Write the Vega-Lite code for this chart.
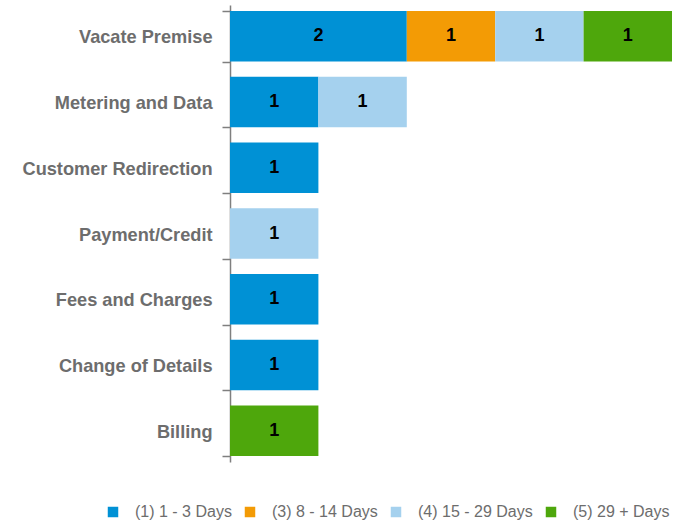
{
  "$schema": "https://vega.github.io/schema/vega-lite/v6.json",
  "width": 442,
  "height": 457,
  "autosize": {"type": "none"},
  "padding": {"left": 230, "top": 5, "right": 16, "bottom": 61},
  "background": "white",
  "config": {"view": {"stroke": null}, "font": "Liberation Sans"},
  "data": {
    "values": [
      {"category": "Vacate Premise", "bucket": "(1) 1 - 3 Days", "order": 1, "count": 2},
      {"category": "Vacate Premise", "bucket": "(3) 8 - 14 Days", "order": 2, "count": 1},
      {"category": "Vacate Premise", "bucket": "(4) 15 - 29 Days", "order": 3, "count": 1},
      {"category": "Vacate Premise", "bucket": "(5) 29 + Days", "order": 4, "count": 1},
      {"category": "Metering and Data", "bucket": "(1) 1 - 3 Days", "order": 1, "count": 1},
      {"category": "Metering and Data", "bucket": "(4) 15 - 29 Days", "order": 3, "count": 1},
      {"category": "Customer Redirection", "bucket": "(1) 1 - 3 Days", "order": 1, "count": 1},
      {"category": "Payment/Credit", "bucket": "(4) 15 - 29 Days", "order": 3, "count": 1},
      {"category": "Fees and Charges", "bucket": "(1) 1 - 3 Days", "order": 1, "count": 1},
      {"category": "Change of Details", "bucket": "(1) 1 - 3 Days", "order": 1, "count": 1},
      {"category": "Billing", "bucket": "(5) 29 + Days", "order": 4, "count": 1}
    ]
  },
  "transform": [
    {"stack": "count", "groupby": ["category"], "sort": [{"field": "order", "order": "ascending"}], "as": ["x0", "x1"]},
    {"calculate": "(datum.x0 + datum.x1) / 2", "as": "mid"}
  ],
  "encoding": {
    "y": {
      "field": "category",
      "type": "nominal",
      "sort": ["Vacate Premise", "Metering and Data", "Customer Redirection", "Payment/Credit", "Fees and Charges", "Change of Details", "Billing"],
      "scale": {"paddingInner": 0.23, "paddingOuter": 0.09},
      "axis": {
        "title": null,
        "domainColor": "#7f7f7f",
        "domainWidth": 1.5,
        "tickColor": "#7f7f7f",
        "tickWidth": 1.5,
        "tickSize": 8,
        "tickBand": "extent",
        "labelPadding": 10,
        "labelFont": "Liberation Sans",
        "labelFontSize": 18.2,
        "labelFontWeight": "bold",
        "labelColor": "#6d6d6d",
        "labelLimit": 250,
        "labelOffset": 1.5
      }
    }
  },
  "layer": [
    {
      "mark": {"type": "bar"},
      "encoding": {
        "x": {"field": "x0", "type": "quantitative", "scale": {"domain": [0, 5]}, "axis": null},
        "x2": {"field": "x1"},
        "color": {
          "field": "bucket",
          "type": "nominal",
          "scale": {
            "domain": ["(1) 1 - 3 Days", "(3) 8 - 14 Days", "(4) 15 - 29 Days", "(5) 29 + Days"],
            "range": ["#0091d5", "#f39b05", "#a5d1ee", "#4ea70c"]
          },
          "legend": {
            "title": null,
            "orient": "none",
            "direction": "horizontal",
            "legendX": -125,
            "legendY": 499,
            "symbolType": "square",
            "symbolSize": 110,
            "symbolStrokeWidth": 0,
            "symbolOpacity": 1,
            "labelFont": "Liberation Sans",
            "labelFontSize": 16,
            "labelColor": "#6d6d6d",
            "labelOffset": 14,
            "columnPadding": 10,
            "labelLimit": 200
          }
        }
      }
    },
    {
      "mark": {"type": "text", "font": "Liberation Sans", "fontSize": 18, "fontWeight": "bold", "color": "black"},
      "encoding": {
        "x": {"field": "mid", "type": "quantitative"},
        "text": {"field": "count", "type": "quantitative"}
      }
    }
  ]
}
